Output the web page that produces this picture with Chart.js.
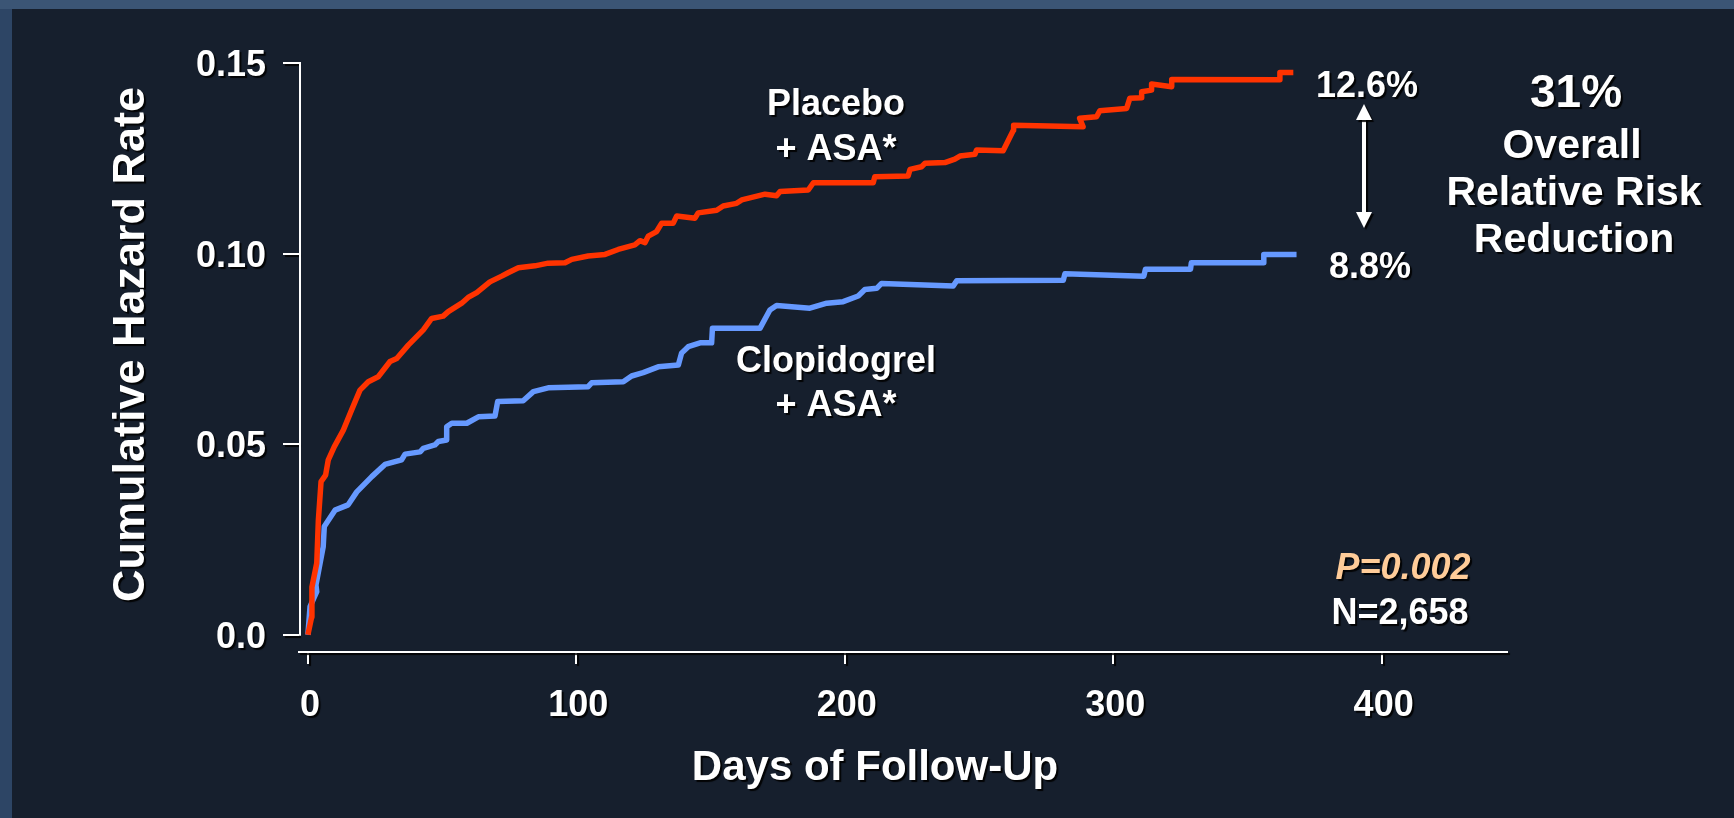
<!DOCTYPE html>
<html><head><meta charset="utf-8">
<script src="https://cdn.jsdelivr.net/npm/chart.js@4.4.1/dist/chart.umd.min.js"></script>
<style>html,body{margin:0;padding:0;background:#161f2d;overflow:hidden}canvas{display:block}</style>
</head><body><canvas id="c" width="1734" height="818"></canvas>
<script>
// ---- data ----
const placeboDays = [0, 1.4, 1.5, 3.3, 3.9, 4.9, 6.6, 7.6, 9.8, 13.2, 16.3, 19.4, 22.5, 26.2, 30.6, 33.1, 37.4, 43.0, 46.1, 50.4, 52.3, 57.3, 59.7, 62.9, 67.8, 72.2, 74.6, 78.4, 84.6, 89.5, 95.8, 98.3, 104.4, 110.7, 115.6, 121.8, 123.7, 125.6, 126.8, 129.9, 131.8, 136.1, 137.4, 144.2, 145.4, 152.3, 154.7, 159.7, 161.6, 170.3, 174.6, 175.9, 186.4, 188.3, 210.6, 211.2, 223.6, 224.3, 228.6, 229.9, 237.3, 241.0, 242.9, 248.5, 249.1, 259.0, 262.8, 262.9, 288.8, 287.5, 293.8, 295.0, 305.0, 306.2, 310.6, 310.6, 314.3, 314.3, 321.8, 321.8, 362.1, 362.1, 367.1];
const placeboRate = [0, 0.0047, 0.0125, 0.0188, 0.0301, 0.0402, 0.0419, 0.0459, 0.0493, 0.0537, 0.0590, 0.0642, 0.0664, 0.0677, 0.0717, 0.0725, 0.0760, 0.0800, 0.0830, 0.0836, 0.0848, 0.0870, 0.0885, 0.0898, 0.0926, 0.0941, 0.0950, 0.0963, 0.0968, 0.0975, 0.0976, 0.0985, 0.0994, 0.0998, 0.1011, 0.1023, 0.1034, 0.1029, 0.1046, 0.1058, 0.1080, 0.1080, 0.1099, 0.1093, 0.1107, 0.1114, 0.1125, 0.1132, 0.1141, 0.1156, 0.1152, 0.1163, 0.1167, 0.1186, 0.1186, 0.1202, 0.1204, 0.1221, 0.1228, 0.1237, 0.1239, 0.1248, 0.1256, 0.1261, 0.1272, 0.1270, 0.1324, 0.1337, 0.1333, 0.1355, 0.1359, 0.1375, 0.1381, 0.1408, 0.1409, 0.1425, 0.1429, 0.1445, 0.1438, 0.1457, 0.1456, 0.1475, 0.1475];

const clopidogrelDays = [0, 0.8, 3.3, 3.0, 5.7, 6.1, 10.1, 15.0, 18.2, 23.8, 28.7, 34.9, 36.2, 41.8, 43.0, 47.3, 48.6, 51.7, 51.7, 53.6, 59.2, 63.5, 69.7, 70.7, 80.2, 84.0, 89.5, 104.4, 105.7, 117.5, 120.6, 124.9, 130.5, 138.0, 139.2, 141.7, 146.1, 150.4, 150.7, 168.4, 172.1, 174.6, 187.0, 193.3, 199.4, 205.0, 207.5, 211.9, 213.7, 240.4, 241.7, 281.4, 282.0, 311.4, 312.0, 328.8, 329.1, 355.9, 356.1, 368.3];
const clopidogrelRate = [0, 0.0074, 0.0113, 0.0131, 0.0231, 0.0284, 0.0327, 0.0341, 0.0375, 0.0415, 0.0447, 0.0459, 0.0474, 0.0480, 0.0489, 0.0498, 0.0507, 0.0511, 0.0546, 0.0555, 0.0555, 0.0572, 0.0574, 0.0612, 0.0614, 0.0638, 0.0648, 0.0651, 0.0661, 0.0664, 0.0679, 0.0688, 0.0703, 0.0708, 0.0739, 0.0756, 0.0766, 0.0766, 0.0804, 0.0804, 0.0852, 0.0864, 0.0857, 0.0870, 0.0874, 0.0889, 0.0906, 0.0909, 0.0922, 0.0915, 0.0929, 0.0930, 0.0947, 0.0941, 0.0959, 0.0959, 0.0976, 0.0976, 0.0998, 0.0998];

const xTicks = [0, 100, 200, 300, 400];
const yTicks = [0, 0.05, 0.10, 0.15];
const yTickLabels = ['0.0', '0.05', '0.10', '0.15'];

const xTitle = 'Days of Follow-Up';
const yTitle = 'Cumulative Hazard Rate';

// ---- styling / annotation layout ----
const FONT = "'Liberation Sans', Arial, Helvetica, sans-serif";
const notes = [
  {text: 'Placebo', x: 836, y: 115, size: 36},
  {text: '+ ASA*', x: 836, y: 160, size: 36},
  {text: 'Clopidogrel', x: 836, y: 372, size: 36},
  {text: '+ ASA*', x: 836, y: 416, size: 36},
  {text: '12.6%', x: 1367, y: 97, size: 36},
  {text: '8.8%', x: 1370, y: 278, size: 36},
  {text: '31%', x: 1576, y: 107, size: 46},
  {text: 'Overall', x: 1572, y: 158, size: 41},
  {text: 'Relative Risk', x: 1574, y: 205, size: 41},
  {text: 'Reduction', x: 1574, y: 252, size: 41},
  {text: 'P=0.002', x: 1403, y: 579, size: 36, italic: true, color: '#FFCC99'},
  {text: 'N=2,658', x: 1400, y: 624, size: 36}
];
const arrow = {x: 1364, top: 104, bottom: 228};

function setShadow(c, on) {
  if (on) { c.shadowColor = 'rgba(0,0,0,0.9)'; c.shadowOffsetX = 2; c.shadowOffsetY = 2; c.shadowBlur = 1; }
  else { c.shadowColor = 'rgba(0,0,0,0)'; c.shadowOffsetX = 0; c.shadowOffsetY = 0; c.shadowBlur = 0; }
}

const deco = {
  id: 'deco',
  beforeDraw(chart) {
    const c = chart.ctx;
    c.save();
    c.fillStyle = '#161f2d';
    c.fillRect(0, 0, chart.width, chart.height);
    c.fillStyle = '#2d4565';
    c.fillRect(0, 0, 12, chart.height);
    c.fillStyle = '#3b5575';
    c.fillRect(0, 0, chart.width, 9);
    c.restore();
    setShadow(c, true);
  },
  beforeDatasetsDraw(chart) {
    const c = chart.ctx;
    setShadow(c, false);
    const y = chart.scales.y, a = chart.chartArea;
    c.save();
    c.strokeStyle = '#ffffff';
    c.lineWidth = 2;
    c.beginPath();
    c.moveTo(a.left + 1, y.getPixelForValue(yTicks[yTicks.length - 1]) - 1);
    c.lineTo(a.left + 1, y.getPixelForValue(yTicks[0]) + 1);
    c.stroke();
    c.restore();
  },
  afterDraw(chart) {
    const c = chart.ctx;
    c.save();
    setShadow(c, true);
    c.fillStyle = '#ffffff';
    c.textBaseline = 'alphabetic';
    c.textAlign = 'center';
    for (const n of notes) {
      c.font = (n.italic ? 'italic ' : '') + 'bold ' + n.size + 'px ' + FONT;
      c.fillStyle = n.color || '#ffffff';
      c.fillText(n.text, n.x, n.y);
    }
    // axis titles
    c.fillStyle = '#ffffff';
    c.font = 'bold 42px ' + FONT;
    c.fillText(xTitle, 875, 780);
    c.save();
    c.translate(143.5, 344.5);
    c.rotate(-Math.PI / 2);
    c.font = 'bold 45px ' + FONT;
    c.fillText(yTitle, 0, 0);
    c.restore();
    // double arrow
    c.strokeStyle = '#ffffff';
    c.lineWidth = 4;
    c.beginPath();
    c.moveTo(arrow.x, arrow.top + 12);
    c.lineTo(arrow.x, arrow.bottom - 12);
    c.stroke();
    c.beginPath();
    c.moveTo(arrow.x, arrow.top);
    c.lineTo(arrow.x - 8, arrow.top + 16);
    c.lineTo(arrow.x + 8, arrow.top + 16);
    c.closePath();
    c.fill();
    c.beginPath();
    c.moveTo(arrow.x, arrow.bottom);
    c.lineTo(arrow.x - 8, arrow.bottom - 16);
    c.lineTo(arrow.x + 8, arrow.bottom - 16);
    c.closePath();
    c.fill();
    c.restore();
  }
};

const toPoints = (xs, ys) => xs.map((x, i) => ({x: x, y: ys[i]}));

new Chart(document.getElementById('c'), {
  type: 'line',
  data: {
    datasets: [
      {label: 'Placebo + ASA*', data: toPoints(placeboDays, placeboRate), borderColor: '#ff3300', borderWidth: 5.5, pointRadius: 0, tension: 0, fill: false, borderJoinStyle: 'round'},
      {label: 'Clopidogrel + ASA*', data: toPoints(clopidogrelDays, clopidogrelRate), borderColor: '#6699ff', borderWidth: 5.5, pointRadius: 0, tension: 0, fill: false, borderJoinStyle: 'round'}
    ]
  },
  options: {
    responsive: false,
    animation: false,
    devicePixelRatio: 1,
    layout: {padding: {top: 63, right: 227, left: 0, bottom: 0}},
    plugins: {legend: {display: false}, tooltip: {enabled: false}},
    scales: {
      x: {
        type: 'linear', min: -3.315, max: 446.7,
        afterBuildTicks: s => { s.ticks = xTicks.map(v => ({value: v})); },
        afterFit: s => { s.height = 166; },
        grid: {drawOnChartArea: false, drawTicks: true, tickLength: 12, color: '#ffffff', lineWidth: 2},
        border: {display: true, color: '#ffffff', width: 2},
        ticks: {color: '#ffffff', font: {family: FONT, size: 36, weight: 'bold'}, padding: 20, maxRotation: 0, autoSkip: false, labelOffset: 2, callback: v => String(v)}
      },
      y: {
        type: 'linear', min: -0.004513, max: 0.15002,
        afterBuildTicks: s => { s.ticks = yTicks.map(v => ({value: v})); },
        afterFit: s => { s.width = 299; },
        grid: {drawOnChartArea: false, drawTicks: true, tickLength: 16, color: '#ffffff', lineWidth: 2},
        border: {display: false},
        ticks: {color: '#ffffff', font: {family: FONT, size: 36, weight: 'bold'}, padding: 17, labelOffset: 3, autoSkip: false, callback: (v, i) => yTickLabels[i]}
      }
    }
  },
  plugins: [deco]
});
</script>
</body></html>
